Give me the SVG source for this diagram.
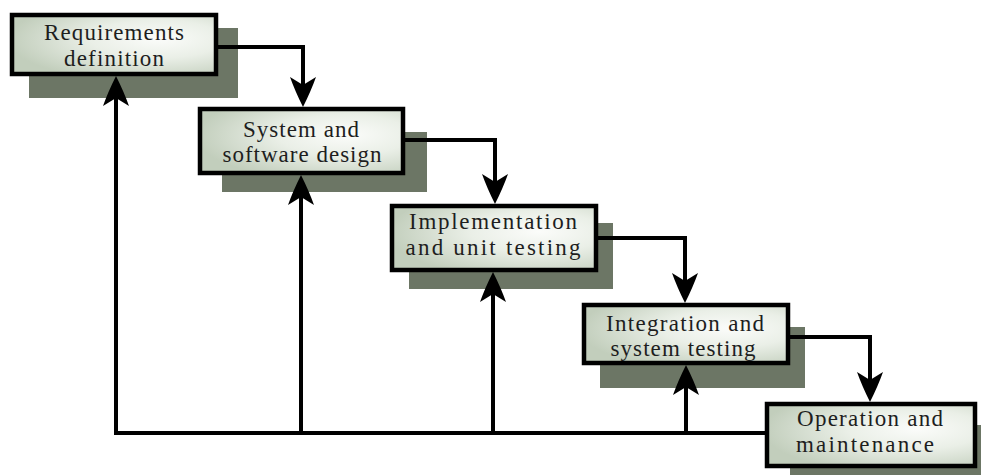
<svg xmlns="http://www.w3.org/2000/svg" width="981" height="475" viewBox="0 0 981 475">
  <defs>
    <radialGradient id="boxFill" cx="0.7" cy="0.42" r="0.72" fx="0.72" fy="0.4">
      <stop offset="0" stop-color="#fbfcfa"/>
      <stop offset="0.45" stop-color="#eaefe7"/>
      <stop offset="1" stop-color="#c2cebc"/>
    </radialGradient>
    <marker id="dart" viewBox="0 0 30 26" refX="24" refY="13" markerWidth="30" markerHeight="26" markerUnits="userSpaceOnUse" orient="auto">
      <path d="M0,0 Q14,5 30,13 Q14,21 0,26 L8,13 Z" fill="#000"/>
    </marker>
    <style>
      .shadow { fill: #6c7665; }
      .box { fill: url(#boxFill); stroke: #000; stroke-width: 4.5; }
      .label { font-family: "Liberation Serif", "Times New Roman", serif; font-size: 23px; fill: #1e1e1e; text-anchor: middle; }
      .wire { fill: none; stroke: #000; stroke-width: 4; stroke-linejoin: miter; }
      .arrow { marker-end: url(#dart); }
    </style>
  </defs>

  <rect width="981" height="475" fill="#fff"/>

  <!-- stages of the process -->
  <g id="requirements">
    <rect class="shadow" x="29" y="28" width="209" height="70"/>
    <rect class="box" x="12" y="15" width="204" height="59"/>
    <text class="label" x="114" y="40" textLength="140" lengthAdjust="spacing">Requirements</text>
    <text class="label" x="114" y="66" textLength="100" lengthAdjust="spacing">definition</text>
  </g>

  <g id="design">
    <rect class="shadow" x="222" y="132" width="205" height="60"/>
    <rect class="box" x="200" y="109" width="203" height="64"/>
    <text class="label" x="301" y="137" textLength="116" lengthAdjust="spacing">System and</text>
    <text class="label" x="302" y="162" textLength="159" lengthAdjust="spacing">software design</text>
  </g>

  <g id="implementation">
    <rect class="shadow" x="409" y="223" width="204" height="66"/>
    <rect class="box" x="392" y="206" width="204" height="64"/>
    <text class="label" x="493" y="229" textLength="168" lengthAdjust="spacing">Implementation</text>
    <text class="label" x="493" y="255" textLength="175" lengthAdjust="spacing">and unit testing</text>
  </g>

  <g id="integration">
    <rect class="shadow" x="600" y="327" width="205" height="61"/>
    <rect class="box" x="584" y="305" width="204" height="58"/>
    <text class="label" x="685" y="331" textLength="158" lengthAdjust="spacing">Integration and</text>
    <text class="label" x="683" y="356" textLength="145" lengthAdjust="spacing">system testing</text>
  </g>

  <g id="operation">
    <rect class="shadow" x="790" y="425" width="200" height="60"/>
    <rect class="box" x="767" y="404" width="208" height="62"/>
    <text class="label" x="870" y="426" textLength="146" lengthAdjust="spacing">Operation and</text>
    <text class="label" x="865" y="452" textLength="138" lengthAdjust="spacing">maintenance</text>
  </g>

  <!-- flow between stages and feedback paths -->
  <g id="connectors">
    <path class="wire arrow" d="M216,47 H303 V101"/>
    <path class="wire arrow" d="M403,140 H495 V198"/>
    <path class="wire arrow" d="M596,238 H685 V297"/>
    <path class="wire arrow" d="M788,337 H870 V396"/>

    <path class="wire" d="M767,433 H116"/>
    <path class="wire arrow" d="M116,435 V82"/>
    <path class="wire arrow" d="M301,433 V181"/>
    <path class="wire arrow" d="M493,433 V278"/>
    <path class="wire arrow" d="M686,433 V371"/>
  </g>
</svg>
